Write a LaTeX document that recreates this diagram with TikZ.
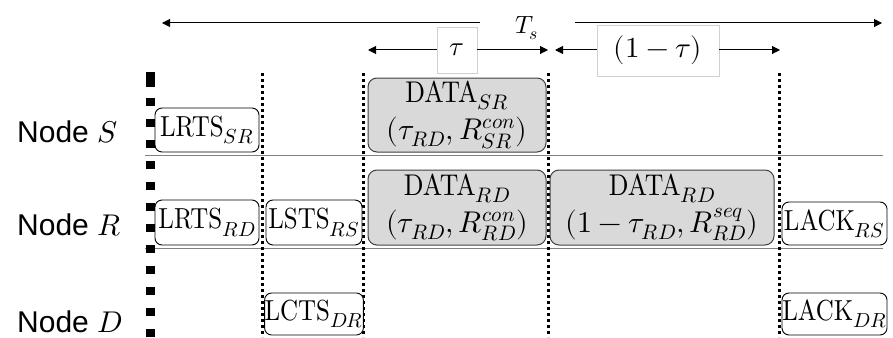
\documentclass[tikz,border=0pt]{standalone}
\usepackage{fontspec}
\usepackage{unicode-math}
\setmainfont{lmroman10-regular.otf}[ItalicFont=lmroman10-italic.otf,BoldFont=lmroman10-bold.otf,FakeStretch=0.86]
\setmathfont{Latin Modern Math}
\newfontfamily\sansf{Liberation Sans}
\usetikzlibrary{arrows.meta}
\definecolor{fillgray}{HTML}{D9D9D9}
\definecolor{boxgray}{HTML}{404040}
\definecolor{lightframe}{HTML}{D0D0D0}
\definecolor{rulegray}{HTML}{808080}
\begin{document}
\begin{tikzpicture}[x=1pt,y=-1pt,
  box/.style={draw=black, line width=0.9pt, rounded corners=7pt, fill=white, inner sep=0pt,
    font=\fontsize{29}{32}\selectfont},
  dbox/.style={draw=boxgray, line width=1pt, rounded corners=9pt, fill=fillgray, inner sep=0pt,
    align=center, font=\fontsize{30}{37}\selectfont},
  lbl/.style={anchor=base west, inner sep=0pt, font=\sansf\fontsize{30}{32}\selectfont},
  tbox/.style={draw=lightframe, line width=0.8pt, fill=white, inner sep=0pt},
  arr/.style={-{Triangle[length=8pt,width=8pt]}, line width=1pt},
  dotv/.style={line width=3pt, dash pattern=on 3pt off 3pt},
  thickv/.style={line width=9pt, dash pattern=on 8pt off 13pt},
  hrule/.style={draw=rulegray, line width=1pt}]
\useasboundingbox (0,0) rectangle (893,337);

% horizontal separators
\coordinate (h1a) at (145,155); \coordinate (h1b) at (883,155);
\coordinate (h2a) at (145,248); \coordinate (h2b) at (883,248);
\draw[hrule] (h1a) -- (h1b);
\draw[hrule] (h2a) -- (h2b);

% vertical lines
\coordinate (v0a) at (150,72); \coordinate (v0s) at (150,77); \coordinate (v0b) at (150,337);
\draw[line width=9pt] (v0a) -- (150,87);
\draw[thickv] (v0s) -- (v0b);
\foreach \x/\n in {262/v1,363/v2,548/v3,779/v4}{
  \coordinate (\n a) at (\x,73); \coordinate (\n b) at (\x,337);
  \draw[dotv] (\n a) -- (\n b);
}

% row labels
\node[lbl] (nS) at (17,142) {Node $S$};
\node[lbl] (nR) at (17,235) {Node $R$};
\node[lbl] (nD) at (17,332) {Node $D$};

% Node S row
\node[box, minimum width=104pt, minimum height=44pt] (lrtsSR) at (207,130) {LRTS$_{SR}$};
\node[dbox, minimum width=178pt, minimum height=74pt] (dataSR) at (457,115)
  {DATA$_{SR}$\\$(\tau_{RD},R_{SR}^{con})$};

% Node R row
\node[box, minimum width=104pt, minimum height=45pt] (lrtsRD) at (207,222.5) {LRTS$_{RD}$};
\node[box, minimum width=96pt, minimum height=45pt] (lstsRS) at (314,222.5) {LSTS$_{RS}$};
\node[dbox, minimum width=178pt, minimum height=75pt] (dataRD1) at (457,207.5)
  {DATA$_{RD}$\\$(\tau_{RD},R_{RD}^{con})$};
\node[dbox, minimum width=224pt, minimum height=75pt] (dataRD2) at (662,207.5)
  {DATA$_{RD}$\\$(1-\tau_{RD},R_{RD}^{seq})$};
\node[box, minimum width=105pt, minimum height=43pt] (lackRS) at (834.5,223.5) {LACK$_{RS}$};

% Node D row
\node[box, minimum width=96pt, minimum height=42pt] (lctsDR) at (314,314) {LCTS$_{DR}$};
\node[box, minimum width=105pt, minimum height=42pt] (lackDR) at (834.5,314) {LACK$_{DR}$};

% top: T_s
\coordinate (tsL) at (162,23); \coordinate (tsLe) at (480,23);
\coordinate (tsRs) at (575,23); \coordinate (tsR) at (882,23);
\node[inner sep=0pt, font=\fontsize{25}{26}\selectfont] (ts) at (527,28) {$T_s$};
\draw[arr] (tsLe) -- (tsL);
\draw[arr] (tsRs) -- (tsR);

% tau
\node[tbox, minimum width=40pt, minimum height=46pt, font=\fontsize{27}{28}\selectfont] (tau) at (457,50) {$\tau$};
\coordinate (tauL) at (368,50); \coordinate (tauR) at (548,50);
\draw[arr] (tau.west) -- (tauL);
\draw[arr] (tau.east) -- (tauR);

% 1 - tau
\node[tbox, minimum width=122pt, minimum height=51pt, font=\fontsize{29}{30}\selectfont] (omt) at (658,50.5) {$(1-\tau)$};
\coordinate (omtL) at (555,50); \coordinate (omtR) at (780,50);
\draw[arr] (omt.west |- omtL) -- (omtL);
\draw[arr] (omt.east |- omtR) -- (omtR);
\end{tikzpicture}
\end{document}
